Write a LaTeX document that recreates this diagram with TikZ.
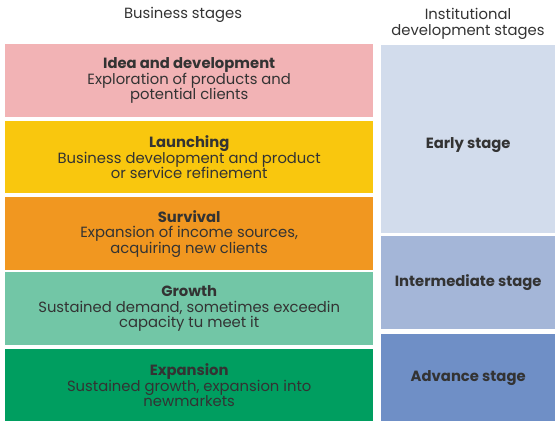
\documentclass[tikz,border=0pt]{standalone}
\usepackage{fontspec}
\setmainfont{Poppins}
\usepackage{tikz}

\definecolor{Pink}{HTML}{F2B3B5}
\definecolor{Sun}{HTML}{F9C70E}
\definecolor{Tangerine}{HTML}{F19720}
\definecolor{Mint}{HTML}{72C6A6}
\definecolor{Jade}{HTML}{009E60}
\definecolor{PaleBlue}{HTML}{D2DCEC}
\definecolor{MidBlue}{HTML}{A4B6D8}
\definecolor{DeepBlue}{HTML}{6F8FC6}
\definecolor{Ink}{HTML}{333333}

\begin{document}
\begin{tikzpicture}[x=1pt, y=-1pt,
  every node/.style={text=Ink, font=\fontsize{14.8}{15.5}\selectfont},
  stagebox/.style={anchor=north west, inner sep=0pt, align=center, minimum width=368pt},
  instbox/.style={anchor=north west, inner sep=0pt, align=center, minimum width=174pt}]
\useasboundingbox (0,0) rectangle (555,421);
% headings
\node (bushead) at (183,15) {Business stages};
\node[align=center] (insthead) at (468,24) {Institutional\\development stages};
% business stages
\node[stagebox, fill=Pink, minimum height=73pt] (idea) at (5,44)
  {\textbf{Idea and development}\\Exploration of products and\\potential clients};
\node[stagebox, fill=Sun, minimum height=72pt] (launch) at (5,121)
  {\textbf{Launching}\\Business development and product\\or service refinement};
\node[stagebox, fill=Tangerine, minimum height=73pt] (survive) at (5,197)
  {\textbf{Survival}\\Expansion of income sources,\\acquiring new clients};
\node[stagebox, fill=Mint, minimum height=73pt] (grow) at (5,272)
  {\textbf{Growth}\\Sustained demand, sometimes exceedin\\capacity tu meet it};
\node[stagebox, fill=Jade, minimum height=72pt] (expand) at (5,349)
  {\textbf{Expansion}\\Sustained growth, expansion into\\newmarkets};
% institutional stages
\node[instbox, fill=PaleBlue, minimum height=188pt, text height=23pt] (early) at (381,45) {\textbf{Early stage}};
\node[instbox, fill=MidBlue, minimum height=93pt] (mid) at (381,236) {\textbf{Intermediate stage}};
\node[instbox, fill=DeepBlue, minimum height=87pt] (adv) at (381,334) {\textbf{Advance stage}};
\end{tikzpicture}
\end{document}
